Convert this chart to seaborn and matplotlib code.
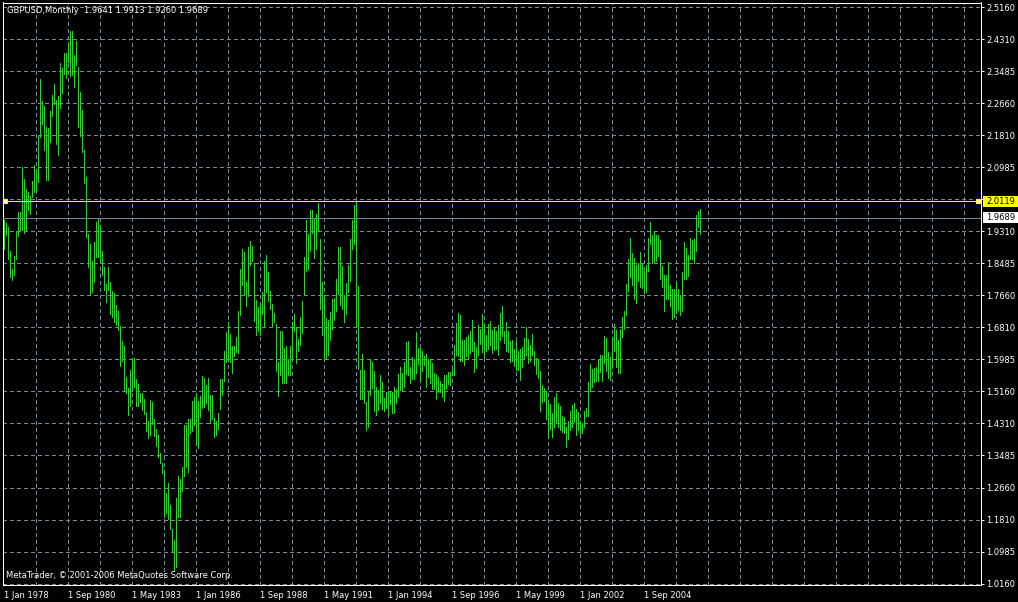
import numpy as np
import pandas as pd
import matplotlib
matplotlib.use("Agg")
import matplotlib.pyplot as plt
import matplotlib.transforms as mtransforms
from matplotlib.patches import Rectangle
import seaborn as sns

# ---------------- data (monthly bars, Jan 1978 onwards) ----------------
highs = [
    1.962, 1.954, 1.944, 1.881, 1.834, 1.868, 1.933, 1.983, 1.983, 2.100,
    2.069, 2.043, 2.035, 2.025, 2.064, 2.105, 2.092, 2.181, 2.329, 2.272,
    2.259, 2.204, 2.202, 2.246, 2.288, 2.316, 2.275, 2.285, 2.371, 2.358,
    2.397, 2.397, 2.426, 2.454, 2.454, 2.392, 2.428, 2.361, 2.295, 2.249,
    2.144, 2.074, 1.926, 1.900, 1.855, 1.905, 1.957, 1.967, 1.947, 1.881,
    1.840, 1.795, 1.840, 1.801, 1.777, 1.772, 1.741, 1.725, 1.686, 1.647,
    1.634, 1.553, 1.525, 1.571, 1.603, 1.603, 1.548, 1.535, 1.512, 1.512,
    1.496, 1.462, 1.439, 1.493, 1.488, 1.444, 1.418, 1.402, 1.355, 1.329,
    1.308, 1.251, 1.277, 1.220, 1.157, 1.129, 1.238, 1.295, 1.288, 1.319,
    1.428, 1.428, 1.444, 1.444, 1.491, 1.501, 1.512, 1.491, 1.504, 1.556,
    1.551, 1.532, 1.551, 1.506, 1.506, 1.446, 1.439, 1.459, 1.548, 1.548,
    1.621, 1.670, 1.696, 1.665, 1.634, 1.634, 1.657, 1.725, 1.834, 1.887,
    1.879, 1.801, 1.892, 1.907, 1.894, 1.850, 1.754, 1.736, 1.743, 1.775,
    1.855, 1.871, 1.827, 1.777, 1.743, 1.720, 1.691, 1.592, 1.673, 1.673,
    1.629, 1.634, 1.600, 1.634, 1.696, 1.717, 1.683, 1.652, 1.710, 1.751,
    1.866, 1.962, 1.926, 1.988, 1.988, 1.965, 1.978, 2.006, 1.913, 1.801,
    1.762, 1.707, 1.702, 1.723, 1.756, 1.759, 1.808, 1.892, 1.892, 1.842,
    1.767, 1.798, 1.845, 1.913, 1.962, 2.001, 2.012, 1.790, 1.571, 1.613,
    1.571, 1.488, 1.517, 1.600, 1.592, 1.569, 1.527, 1.519, 1.558, 1.540,
    1.499, 1.514, 1.514, 1.514, 1.514, 1.527, 1.522, 1.561, 1.579, 1.564,
    1.592, 1.644, 1.647, 1.579, 1.605, 1.600, 1.670, 1.629, 1.629, 1.621,
    1.608, 1.613, 1.600, 1.600, 1.590, 1.564, 1.561, 1.553, 1.543, 1.535,
    1.558, 1.558, 1.566, 1.566, 1.574, 1.637, 1.694, 1.720, 1.715, 1.650,
    1.650, 1.657, 1.663, 1.673, 1.702, 1.644, 1.631, 1.689, 1.678, 1.717,
    1.691, 1.663, 1.691, 1.699, 1.676, 1.683, 1.673, 1.689, 1.720, 1.738,
    1.673, 1.696, 1.673, 1.647, 1.650, 1.626, 1.647, 1.621, 1.626, 1.631,
    1.655, 1.683, 1.652, 1.637, 1.665, 1.621, 1.603, 1.600, 1.569, 1.532,
    1.525, 1.517, 1.486, 1.483, 1.459, 1.501, 1.512, 1.486, 1.478, 1.452,
    1.449, 1.423, 1.439, 1.465, 1.480, 1.486, 1.470, 1.462, 1.439, 1.433,
    1.465, 1.473, 1.540, 1.587, 1.574, 1.577, 1.579, 1.597, 1.611, 1.611,
    1.660, 1.655, 1.618, 1.605, 1.657, 1.691, 1.676, 1.650, 1.678, 1.710,
    1.725, 1.795, 1.861, 1.915, 1.876, 1.863, 1.845, 1.850, 1.879, 1.848,
    1.835, 1.845, 1.915, 1.957, 1.923, 1.933, 1.923, 1.923, 1.910, 1.842,
    1.819, 1.819, 1.853, 1.793, 1.782, 1.782, 1.798, 1.782, 1.767, 1.827,
    1.905, 1.889, 1.871, 1.915, 1.910, 1.913, 1.975, 1.986, 1.991,
]
lows = [
    1.887, 1.923, 1.861, 1.814, 1.806, 1.819, 1.861, 1.920, 1.936, 1.936,
    1.928, 1.936, 1.988, 1.978, 2.022, 2.035, 2.038, 2.061, 2.178, 2.212,
    2.144, 2.066, 2.066, 2.165, 2.233, 2.264, 2.160, 2.131, 2.254, 2.293,
    2.342, 2.332, 2.374, 2.337, 2.340, 2.308, 2.366, 2.204, 2.181, 2.139,
    2.058, 1.918, 1.840, 1.769, 1.775, 1.801, 1.866, 1.866, 1.853, 1.819,
    1.780, 1.749, 1.780, 1.717, 1.710, 1.696, 1.689, 1.676, 1.582, 1.595,
    1.519, 1.512, 1.454, 1.478, 1.519, 1.527, 1.478, 1.478, 1.488, 1.467,
    1.457, 1.413, 1.394, 1.402, 1.431, 1.400, 1.374, 1.345, 1.329, 1.303,
    1.189, 1.199, 1.183, 1.157, 1.100, 1.048, 1.058, 1.189, 1.189, 1.256,
    1.295, 1.319, 1.306, 1.407, 1.413, 1.428, 1.376, 1.368, 1.449, 1.473,
    1.475, 1.486, 1.467, 1.433, 1.444, 1.397, 1.402, 1.418, 1.470, 1.506,
    1.543, 1.592, 1.597, 1.592, 1.564, 1.608, 1.618, 1.616, 1.715, 1.793,
    1.767, 1.738, 1.764, 1.845, 1.855, 1.699, 1.663, 1.673, 1.663, 1.717,
    1.683, 1.775, 1.751, 1.730, 1.686, 1.696, 1.569, 1.504, 1.558, 1.538,
    1.538, 1.538, 1.558, 1.558, 1.603, 1.673, 1.590, 1.621, 1.637, 1.668,
    1.767, 1.829, 1.834, 1.881, 1.928, 1.863, 1.887, 1.933, 1.730, 1.663,
    1.597, 1.600, 1.611, 1.650, 1.678, 1.702, 1.725, 1.769, 1.741, 1.730,
    1.696, 1.717, 1.775, 1.803, 1.887, 1.900, 1.683, 1.574, 1.496, 1.496,
    1.486, 1.415, 1.423, 1.506, 1.525, 1.465, 1.454, 1.467, 1.486, 1.470,
    1.465, 1.473, 1.454, 1.483, 1.459, 1.459, 1.486, 1.501, 1.519, 1.519,
    1.527, 1.561, 1.558, 1.538, 1.548, 1.548, 1.564, 1.587, 1.543, 1.569,
    1.585, 1.527, 1.553, 1.538, 1.522, 1.522, 1.496, 1.514, 1.514, 1.501,
    1.491, 1.522, 1.535, 1.532, 1.558, 1.558, 1.611, 1.608, 1.595, 1.595,
    1.585, 1.608, 1.600, 1.616, 1.621, 1.566, 1.577, 1.611, 1.640, 1.618,
    1.605, 1.621, 1.626, 1.637, 1.616, 1.624, 1.626, 1.611, 1.650, 1.660,
    1.642, 1.621, 1.618, 1.592, 1.595, 1.582, 1.571, 1.571, 1.545, 1.579,
    1.600, 1.611, 1.590, 1.595, 1.611, 1.585, 1.561, 1.551, 1.465, 1.488,
    1.491, 1.444, 1.397, 1.418, 1.397, 1.423, 1.436, 1.423, 1.415, 1.410,
    1.407, 1.371, 1.392, 1.415, 1.423, 1.436, 1.402, 1.415, 1.405, 1.407,
    1.423, 1.452, 1.452, 1.517, 1.527, 1.540, 1.543, 1.543, 1.566, 1.543,
    1.590, 1.569, 1.551, 1.545, 1.582, 1.621, 1.579, 1.564, 1.564, 1.657,
    1.678, 1.715, 1.777, 1.814, 1.793, 1.756, 1.746, 1.803, 1.788, 1.785,
    1.772, 1.775, 1.829, 1.900, 1.850, 1.853, 1.855, 1.868, 1.808, 1.788,
    1.725, 1.756, 1.756, 1.738, 1.704, 1.710, 1.720, 1.728, 1.715, 1.725,
    1.808, 1.808, 1.816, 1.861, 1.861, 1.850, 1.881, 1.944, 1.926,
]
date_labels = ["1 Jan 1978", "1 Sep 1980", "1 May 1983", "1 Jan 1986", "1 Sep 1988",
               "1 May 1991", "1 Jan 1994", "1 Sep 1996", "1 May 1999", "1 Jan 2002",
               "1 Sep 2004"]
price_labels = ["2.5160", "2.4310", "2.3485", "2.2660", "2.1810", "2.0985", "",
                "1.9310", "1.8485", "1.7660", "1.6810", "1.5985", "1.5160", "1.4310",
                "1.3485", "1.2660", "1.1810", "1.0985", "1.0160"]
symbol = "GBPUSD,Monthly"
last_ohlc = ["1.9641", "1.9913", "1.9260", "1.9689"]
level_price = 2.0119
bid_price = 1.9689
copyright_text = "MetaTrader, \u00a9 2001-2006 MetaQuotes Software Corp."

# ---------------- style ----------------
GREEN = "#32CD32"
GRID = "#778899"
W, H = 1018, 602
PX = 0.72  # one pixel in points at 100 dpi

sns.set_style("dark", {"axes.facecolor": "black", "figure.facecolor": "black"})
plt.rcParams["font.family"] = ["DejaVu Sans"]
plt.rcParams["font.size"] = 6

fig = plt.figure(figsize=(W / 100, H / 100), dpi=100, facecolor="black")
ax = fig.add_axes([2.5 / W, 17.5 / H, 978 / W, 582 / H])
ax.set_facecolor("black")

n = len(highs)
bar_idx = np.arange(n)
df = pd.DataFrame({
    "bar": np.concatenate([bar_idx, bar_idx]),
    "price": np.concatenate([np.array(highs), np.array(lows)]),
})
sns.lineplot(data=df, x="bar", y="price", units="bar", estimator=None, sort=False,
             color=GREEN, linewidth=PX, antialiased=False, ax=ax, legend=False, zorder=3)
ax.set_xlabel("")
ax.set_ylabel("")

ax.set_xlim(-0.5, 488.5)
ax.set_ylim(1.0134, 2.5290)

# x ticks: labels every 32 bars, grid every 16 bars
major_x = np.arange(0, 32 * len(date_labels), 32)
minor_x = [v for v in range(16, 489, 16) if v not in set(major_x)]
ax.set_xticks(major_x)
ax.set_xticklabels(date_labels)
ax.set_xticks(minor_x, minor=True)
for lab in ax.get_xticklabels():
    lab.set_horizontalalignment("left")
ax.tick_params(axis="x", which="major", direction="out", length=4.5 * PX, width=PX,
               color="white", labelcolor="white", labelsize=6, pad=1.5)
ax.tick_params(axis="x", which="minor", length=0)

# y ticks on the right
grid_prices = 2.5160 - np.arange(len(price_labels)) / 12.0
ax.yaxis.tick_right()
ax.set_yticks(grid_prices)
ax.set_yticklabels(price_labels)
ax.tick_params(axis="y", which="major", direction="out", length=3 * PX, width=PX,
               color="white", labelcolor="white", labelsize=6, pad=2.2, left=False,
               labelleft=False, right=True, labelright=True)

ax.set_axisbelow(True)
ax.grid(True, which="both", color=GRID, linestyle=(0, (3.5, 3.0)), linewidth=PX,
        antialiased=False)
ax.get_xgridlines()[0].set_visible(False)

for sp in ax.spines.values():
    sp.set_visible(True)
    sp.set_color("white")
    sp.set_linewidth(PX)
    sp.set_antialiased(False)

# bid line and level line
ax.axhline(bid_price, color=GRID, lw=PX, zorder=4, antialiased=False)
ax.axhline(level_price, color="#FFFF00", lw=PX, zorder=5, antialiased=False)
ax.plot([0.75, 487.25], [level_price, level_price], ls="none", marker="s", ms=3.3,
        mfc="white", mec="#FFFF00", mew=0.9, zorder=6, clip_on=False)

fig.canvas.draw()

def y_px(price):
    return ax.transData.transform((0, price))[1]

for price, face in [(level_price, "#FFFF00"), (bid_price, "white")]:
    yd = y_px(price)
    fig.add_artist(Rectangle((983, yd - 5.5), 36, 11, transform=mtransforms.IdentityTransform(),
                             facecolor=face, edgecolor="none", zorder=10))
    fig.text(986 / W, yd / H, f"{price:.4f}", color="black", fontsize=6,
             ha="left", va="center", zorder=11)

fig.text(7 / W, 1 - 10.5 / H, symbol + "  " + " ".join(last_ohlc), color="white",
         fontsize=6, ha="left", va="center")
fig.text(6 / W, 1 - 576 / H, copyright_text, color="white", fontsize=6,
         ha="left", va="center")

fig.savefig("out.png", dpi=100, facecolor="black")
